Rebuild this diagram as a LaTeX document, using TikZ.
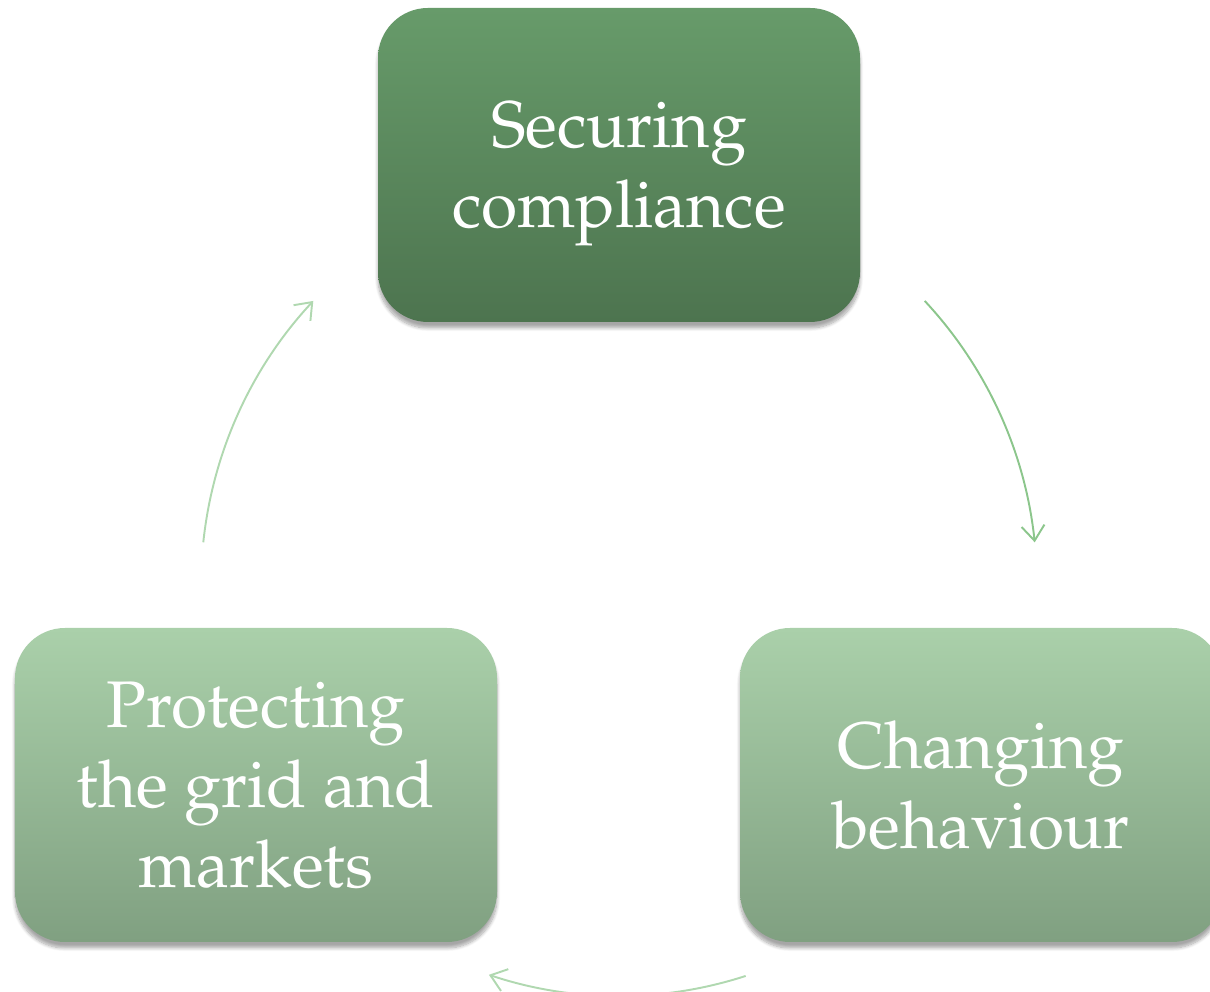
\documentclass[tikz,border=0pt]{standalone}
\usepackage[T1]{fontenc}
\usepackage{mathpazo}
\usepackage{tikz}
\usetikzlibrary{positioning,calc,arrows.meta,shadows.blur}

\definecolor{darktop}{RGB}{103,155,106}
\definecolor{darkbot}{RGB}{77,116,79}
\definecolor{lighttop}{RGB}{170,208,170}
\definecolor{lightbot}{RGB}{128,160,129}
\definecolor{arrowmid}{RGB}{140,198,140}
\definecolor{arrowpale}{RGB}{176,216,176}

\tikzset{
    stagebox/.style={rectangle, rounded corners=1cm, minimum width=9.64cm, minimum height=6.28cm,
        align=center, text=white, font=\fontsize{37.5}{45.5}\selectfont,
        blur shadow={shadow blur steps=8, shadow xshift=0pt, shadow yshift=-0.12cm, shadow opacity=35}},
    cycle arrow/.style={line width=1.1pt, -{Straight Barb[length=0.3cm, width=0.46cm, line width=1.1pt]}}
}

\begin{document}
\begin{tikzpicture}
    \useasboundingbox (0,0) rectangle (24.2,19.84);

    % the three stages
    \node[stagebox, top color=darktop, bottom color=darkbot] (comply) at (12.38,16.54) {\\[-0.32cm]Securing\\compliance};
    \node[stagebox, top color=lighttop, bottom color=lightbot] (protect) at (5.12,4.14) {Protecting\\the grid and\\markets};
    \node[stagebox, top color=lighttop, bottom color=lightbot] (change) at (19.62,4.14) {Changing\\behaviour};

    % arcs round the cycle
    \coordinate (hub) at (12.38,8.12);
    \coordinate (c1) at ($(hub)+(43:8.36)$);
    \coordinate (c2) at ($(hub)+(-72:8.2)$);
    \coordinate (c3) at ($(hub)+(174:8.36)$);
    \draw[cycle arrow, arrowmid] (c1) arc[start angle=43, end angle=6, radius=8.36];
    \draw[cycle arrow, arrowpale] (c2) arc[start angle=-72, end angle=-108.5, radius=8.2];
    \draw[cycle arrow, arrowpale] (c3) arc[start angle=174, end angle=137, radius=8.36];
\end{tikzpicture}
\end{document}
